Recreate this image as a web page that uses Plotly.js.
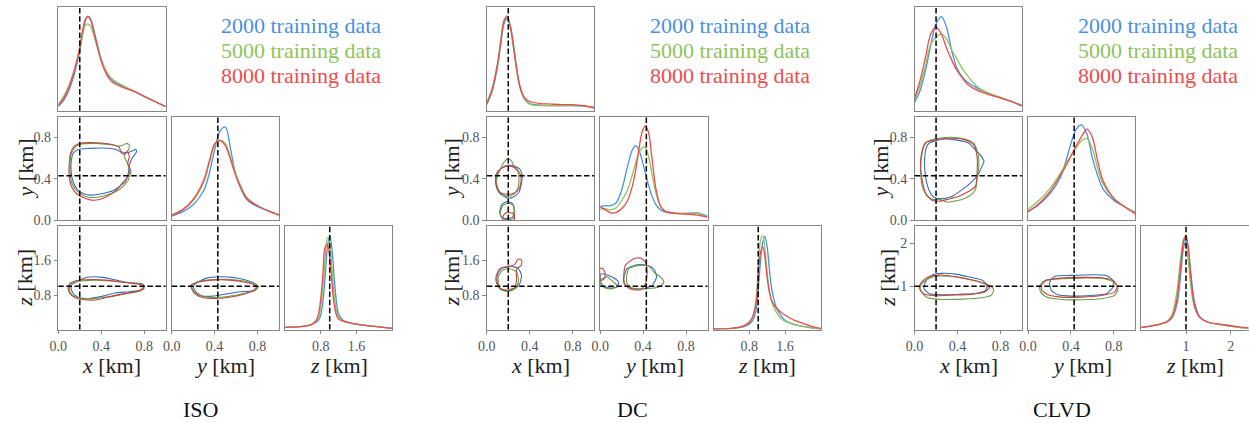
<!DOCTYPE html>
<html>
<head>
<meta charset="utf-8">
<script src="https://cdn.plot.ly/plotly-3.0.1.min.js"></script>
<style>
  html, body { margin: 0; padding: 0; background: #ffffff; }
  #chart { width: 1249px; height: 423px; }
</style>
</head>
<body>
<div id="chart"></div>
<script>
// ---------------- data ----------------
const sourceTypes = ["ISO", "DC", "CLVD"];
const trainingSizes = [2000, 5000, 8000];
const truthLocation = [0.2, 0.43, 1.0];          // true source x, y, z [km]
const axisNames = ["x", "y", "z"];
const xyTickVals = [0, 0.4, 0.8];
const xyTickText = ["0.0", "0.4", "0.8"];
const zTickVals = [[0.8, 1.6], [0.8, 1.6], [1, 2]];
const zTickText = [["0.8", "1.6"], ["0.8", "1.6"], ["1", "2"]];

// ---- ISO: marginal densities (scaled) ----
const isoGridX = [0, 0.05, 0.1, 0.15, 0.2, 0.225, 0.25, 0.275, 0.3, 0.35, 0.4, 0.45, 0.5, 0.6, 0.7, 0.8, 0.9, 1.0];
const isoX_2000 = [0.04, 0.10, 0.20, 0.36, 0.58, 0.74, 0.86, 0.915, 0.89, 0.70, 0.50, 0.37, 0.30, 0.235, 0.19, 0.14, 0.09, 0.04];
const isoX_5000 = [0.06, 0.14, 0.25, 0.40, 0.60, 0.73, 0.82, 0.84, 0.82, 0.66, 0.49, 0.38, 0.31, 0.245, 0.195, 0.14, 0.09, 0.04];
const isoX_8000 = [0.05, 0.12, 0.23, 0.39, 0.61, 0.77, 0.88, 0.91, 0.88, 0.68, 0.48, 0.35, 0.28, 0.225, 0.19, 0.14, 0.09, 0.04];

const isoGridY = [0, 0.1, 0.2, 0.3, 0.35, 0.4, 0.45, 0.5, 0.55, 0.6, 0.7, 0.8, 0.9, 1.0];
const isoY_2000 = [0.04, 0.08, 0.15, 0.29, 0.45, 0.68, 0.86, 0.90, 0.68, 0.43, 0.20, 0.13, 0.09, 0.05];
const isoY_5000 = [0.05, 0.10, 0.19, 0.37, 0.55, 0.72, 0.77, 0.74, 0.60, 0.44, 0.22, 0.14, 0.09, 0.05];
const isoY_8000 = [0.05, 0.10, 0.20, 0.39, 0.57, 0.74, 0.77, 0.72, 0.58, 0.42, 0.21, 0.14, 0.09, 0.05];

const isoGridZ = [0, 0.4, 0.6, 0.7, 0.75, 0.8, 0.85, 0.9, 0.95, 1.0, 1.05, 1.1, 1.15, 1.2, 1.3, 1.5, 1.8, 2.1, 2.4];
const isoZ_2000 = [0.02, 0.03, 0.05, 0.07, 0.09, 0.14, 0.28, 0.52, 0.80, 0.91, 0.78, 0.50, 0.27, 0.15, 0.09, 0.06, 0.04, 0.025, 0.01];
const isoZ_5000 = [0.02, 0.03, 0.05, 0.08, 0.12, 0.22, 0.42, 0.70, 0.89, 0.84, 0.60, 0.33, 0.18, 0.12, 0.08, 0.06, 0.04, 0.025, 0.01];
const isoZ_8000 = [0.02, 0.03, 0.05, 0.09, 0.15, 0.30, 0.55, 0.80, 0.82, 0.70, 0.45, 0.24, 0.14, 0.10, 0.08, 0.06, 0.04, 0.025, 0.01];

// ---- ISO: 2-D credible contours, rings of [a, b] in km ----
const isoXY_2000 = [[[0.185,0.684],[0.292,0.694],[0.415,0.697],[0.538,0.684],[0.585,0.661],[0.646,0.652],[0.692,0.671],[0.723,0.684],[0.729,0.661],[0.686,0.597],[0.662,0.532],[0.655,0.468],[0.637,0.403],[0.606,0.371],[0.569,0.323],[0.508,0.284],[0.415,0.258],[0.308,0.242],[0.231,0.258],[0.175,0.297],[0.138,0.371],[0.12,0.468],[0.12,0.565],[0.138,0.645]]];
const isoXY_5000 = [[[0.2,0.732],[0.354,0.742],[0.508,0.726],[0.569,0.716],[0.606,0.726],[0.637,0.742],[0.662,0.726],[0.655,0.684],[0.631,0.652],[0.615,0.613],[0.637,0.565],[0.662,0.516],[0.677,0.468],[0.662,0.419],[0.649,0.381],[0.615,0.339],[0.569,0.297],[0.492,0.258],[0.415,0.232],[0.323,0.219],[0.246,0.232],[0.185,0.274],[0.138,0.329],[0.114,0.419],[0.108,0.532],[0.12,0.639],[0.154,0.703]]];
const isoXY_8000 = [[[0.2,0.742],[0.354,0.748],[0.508,0.729],[0.569,0.703],[0.585,0.652],[0.615,0.639],[0.646,0.661],[0.662,0.613],[0.646,0.548],[0.668,0.484],[0.655,0.435],[0.637,0.403],[0.625,0.371],[0.585,0.339],[0.523,0.274],[0.446,0.226],[0.385,0.2],[0.308,0.194],[0.231,0.219],[0.169,0.258],[0.123,0.323],[0.102,0.419],[0.102,0.548],[0.114,0.645],[0.145,0.71]]];

const isoXZ_2000 = [[[0.123,1.03],[0.231,1.185],[0.323,1.223],[0.415,1.208],[0.538,1.146],[0.662,1.084],[0.769,1.068],[0.8,1.014],[0.769,0.914],[0.662,0.875],[0.538,0.852],[0.415,0.774],[0.292,0.72],[0.215,0.72],[0.154,0.797],[0.123,0.914]]];
const isoXZ_5000 = [[[0.108,1.053],[0.231,1.13],[0.354,1.146],[0.477,1.13],[0.6,1.099],[0.723,1.068],[0.791,1.03],[0.8,0.952],[0.754,0.89],[0.646,0.836],[0.523,0.774],[0.415,0.743],[0.308,0.712],[0.215,0.728],[0.145,0.774],[0.108,0.875]]];
const isoXZ_8000 = [[[0.108,1.068],[0.2,1.146],[0.323,1.161],[0.446,1.146],[0.569,1.107],[0.692,1.068],[0.785,1.03],[0.794,0.968],[0.754,0.898],[0.662,0.852],[0.538,0.797],[0.415,0.72],[0.323,0.681],[0.231,0.697],[0.154,0.743],[0.108,0.836],[0.092,0.952]]];

const isoYZ_2000 = [[[0.201,0.991],[0.226,1.068],[0.319,1.185],[0.443,1.223],[0.567,1.208],[0.69,1.146],[0.783,1.053],[0.799,0.991],[0.752,0.898],[0.628,0.875],[0.505,0.821],[0.381,0.774],[0.288,0.774],[0.226,0.875]]];
const isoYZ_5000 = [[[0.189,1.03],[0.272,1.123],[0.396,1.161],[0.551,1.161],[0.675,1.123],[0.768,1.053],[0.808,0.991],[0.783,0.914],[0.706,0.852],[0.582,0.79],[0.427,0.743],[0.303,0.759],[0.226,0.836],[0.195,0.929]]];
const isoYZ_8000 = [[[0.18,1.03],[0.257,1.107],[0.381,1.146],[0.536,1.146],[0.659,1.107],[0.752,1.053],[0.789,0.991],[0.768,0.914],[0.69,0.836],[0.567,0.759],[0.412,0.72],[0.288,0.743],[0.22,0.821],[0.189,0.929]]];

// ---- DC: marginal densities (scaled) ----
const dcGridX = [0, 0.05, 0.1, 0.13, 0.16, 0.19, 0.22, 0.25, 0.28, 0.31, 0.35, 0.4, 0.5, 0.6, 0.7, 0.8, 0.9, 1.0];
const dcX_2000 = [0.06, 0.19, 0.43, 0.64, 0.84, 0.89, 0.82, 0.63, 0.40, 0.23, 0.12, 0.07, 0.055, 0.05, 0.05, 0.05, 0.045, 0.035];
const dcX_5000 = [0.08, 0.22, 0.46, 0.68, 0.87, 0.92, 0.80, 0.60, 0.38, 0.22, 0.11, 0.065, 0.05, 0.05, 0.05, 0.05, 0.05, 0.04];
const dcX_8000 = [0.07, 0.20, 0.45, 0.67, 0.87, 0.91, 0.81, 0.61, 0.39, 0.23, 0.13, 0.09, 0.07, 0.065, 0.06, 0.06, 0.05, 0.025];

const dcGridY = [0, 0.05, 0.1, 0.15, 0.2, 0.25, 0.3, 0.33, 0.36, 0.39, 0.42, 0.45, 0.48, 0.52, 0.56, 0.6, 0.7, 0.8, 0.9, 1.0];
const dcY_2000 = [0.13, 0.14, 0.14, 0.17, 0.29, 0.50, 0.68, 0.72, 0.68, 0.58, 0.46, 0.34, 0.24, 0.15, 0.10, 0.08, 0.065, 0.065, 0.07, 0.04];
const dcY_5000 = [0.11, 0.11, 0.10, 0.12, 0.19, 0.28, 0.44, 0.55, 0.65, 0.70, 0.70, 0.62, 0.46, 0.26, 0.14, 0.09, 0.07, 0.065, 0.065, 0.03];
const dcY_8000 = [0.13, 0.10, 0.07, 0.075, 0.11, 0.18, 0.33, 0.48, 0.68, 0.85, 0.91, 0.85, 0.62, 0.30, 0.14, 0.09, 0.065, 0.06, 0.05, 0.03];

const dcGridZ = [0, 0.4, 0.7, 0.85, 0.95, 1.0, 1.05, 1.1, 1.15, 1.2, 1.25, 1.3, 1.4, 1.5, 1.6, 1.8, 2.0, 2.2, 2.4];
const dcZ_2000 = [0.005, 0.01, 0.03, 0.07, 0.18, 0.38, 0.65, 0.84, 0.90, 0.80, 0.58, 0.40, 0.22, 0.14, 0.09, 0.05, 0.03, 0.015, 0.005];
const dcZ_5000 = [0.005, 0.01, 0.035, 0.09, 0.28, 0.60, 0.86, 0.91, 0.78, 0.55, 0.38, 0.27, 0.17, 0.11, 0.08, 0.05, 0.03, 0.015, 0.005];
const dcZ_8000 = [0.005, 0.01, 0.04, 0.10, 0.25, 0.52, 0.74, 0.80, 0.70, 0.50, 0.36, 0.28, 0.21, 0.17, 0.14, 0.09, 0.06, 0.03, 0.01];

// ---- DC: 2-D credible contours ----
const dcXY_2000 = [
  [[0.09,0.40],[0.11,0.47],[0.16,0.52],[0.21,0.53],[0.26,0.52],[0.31,0.49],[0.33,0.43],[0.32,0.34],[0.30,0.27],[0.24,0.22],[0.18,0.22],[0.12,0.26],[0.09,0.32]],
  [[0.12,0.08],[0.14,0.15],[0.19,0.18],[0.24,0.16],[0.255,0.09],[0.24,0.03],[0.19,0.015],[0.14,0.03]]
];
const dcXY_5000 = [
  [[0.09,0.39],[0.12,0.48],[0.16,0.56],[0.2,0.595],[0.23,0.57],[0.26,0.51],[0.29,0.47],[0.30,0.40],[0.29,0.31],[0.25,0.25],[0.19,0.23],[0.13,0.26],[0.10,0.32]],
  [[0.125,0.07],[0.15,0.14],[0.2,0.165],[0.25,0.14],[0.26,0.07],[0.245,0.015],[0.19,0.005],[0.14,0.02]]
];
const dcXY_8000 = [
  [[0.08,0.41],[0.10,0.47],[0.15,0.51],[0.21,0.525],[0.27,0.5],[0.31,0.45],[0.32,0.38],[0.3,0.3],[0.25,0.26],[0.18,0.25],[0.12,0.27],[0.09,0.33]],
  [[0.15,0.0],[0.15,0.03],[0.17,0.065],[0.21,0.075],[0.25,0.06],[0.26,0.02],[0.255,0.0]]
];

const dcXZ_2000 = [[[0.098,1.262],[0.138,1.417],[0.215,1.471],[0.292,1.417],[0.323,1.262],[0.308,1.068],[0.262,0.944],[0.191,0.898],[0.123,0.944],[0.098,1.084]]];
const dcXZ_5000 = [[[0.108,1.223],[0.148,1.378],[0.215,1.409],[0.277,1.339],[0.295,1.146],[0.277,0.975],[0.209,0.883],[0.138,0.914],[0.111,1.053]]];
const dcXZ_8000 = [[[0.086,1.223],[0.123,1.417],[0.2,1.455],[0.262,1.517],[0.292,1.634],[0.323,1.61],[0.323,1.494],[0.277,1.394],[0.277,1.146],[0.262,0.975],[0.191,0.914],[0.123,0.952],[0.092,1.068]]];

const dcYZ_2000 = [
  [[0.219,1.177],[0.25,1.409],[0.344,1.502],[0.438,1.486],[0.5,1.409],[0.525,1.215],[0.484,1.022],[0.406,0.945],[0.281,0.96],[0.225,1.061]],
  [[0.006,1.29],[0.078,1.254],[0.14,1.177],[0.172,1.099],[0.156,0.983],[0.094,0.96],[0.031,1.006],[0.006,1.099]]
];
const dcYZ_5000 = [
  [[0.244,1.177],[0.266,1.409],[0.359,1.486],[0.453,1.471],[0.5,1.332],[0.563,1.215],[0.594,1.099],[0.547,0.983],[0.438,0.945],[0.313,0.945],[0.256,1.037]],
  [[0.0,1.14],[0.063,1.22],[0.125,1.099],[0.163,1.006],[0.11,0.945],[0.047,0.96],[0.006,1.037]]
];
const dcYZ_8000 = [
  [[0.219,1.177],[0.234,1.486],[0.313,1.641],[0.375,1.657],[0.422,1.564],[0.438,1.332],[0.422,1.061],[0.375,0.921],[0.297,0.929],[0.234,1.022]],
  [[0.0,1.42],[0.025,1.41],[0.047,1.293],[0.038,1.177],[0.006,1.138],[0.0,1.14]]
];

// ---- CLVD: marginal densities (scaled) ----
const clvdGridX = [0, 0.05, 0.1, 0.15, 0.2, 0.25, 0.3, 0.35, 0.4, 0.45, 0.5, 0.6, 0.7, 0.8, 0.9, 1.0];
const clvdX_2000 = [0.08, 0.19, 0.38, 0.63, 0.84, 0.91, 0.80, 0.56, 0.40, 0.32, 0.27, 0.21, 0.165, 0.125, 0.09, 0.045];
const clvdX_5000 = [0.10, 0.24, 0.43, 0.64, 0.71, 0.74, 0.69, 0.58, 0.49, 0.40, 0.33, 0.22, 0.165, 0.13, 0.09, 0.05];
const clvdX_8000 = [0.12, 0.29, 0.51, 0.74, 0.81, 0.74, 0.60, 0.48, 0.38, 0.31, 0.25, 0.19, 0.155, 0.125, 0.09, 0.05];

const clvdGridY = [0, 0.1, 0.2, 0.3, 0.35, 0.4, 0.45, 0.5, 0.55, 0.6, 0.65, 0.7, 0.8, 0.9, 1.0];
const clvdY_2000 = [0.08, 0.15, 0.25, 0.41, 0.56, 0.74, 0.88, 0.92, 0.83, 0.60, 0.43, 0.30, 0.19, 0.13, 0.075];
const clvdY_5000 = [0.105, 0.19, 0.30, 0.45, 0.54, 0.62, 0.70, 0.77, 0.79, 0.69, 0.50, 0.35, 0.21, 0.13, 0.07];
const clvdY_8000 = [0.085, 0.16, 0.27, 0.43, 0.52, 0.62, 0.72, 0.81, 0.88, 0.80, 0.57, 0.38, 0.21, 0.13, 0.06];

const clvdGridZ = [0, 0.4, 0.6, 0.7, 0.8, 0.85, 0.9, 0.95, 1.0, 1.05, 1.1, 1.15, 1.2, 1.3, 1.5, 1.8, 2.1, 2.4];
const clvdZ_2000 = [0.02, 0.05, 0.08, 0.12, 0.25, 0.40, 0.62, 0.80, 0.86, 0.78, 0.58, 0.38, 0.25, 0.13, 0.07, 0.045, 0.025, 0.01];
const clvdZ_5000 = [0.02, 0.05, 0.09, 0.16, 0.38, 0.57, 0.76, 0.88, 0.83, 0.66, 0.45, 0.29, 0.20, 0.12, 0.07, 0.045, 0.025, 0.01];
const clvdZ_8000 = [0.02, 0.05, 0.08, 0.13, 0.30, 0.48, 0.70, 0.86, 0.91, 0.80, 0.55, 0.34, 0.22, 0.12, 0.07, 0.05, 0.03, 0.015];

// ---- CLVD: 2-D credible contours ----
const clvdXY_2000 = [[[0.133,0.744],[0.257,0.782],[0.381,0.776],[0.505,0.744],[0.567,0.679],[0.613,0.631],[0.647,0.567],[0.628,0.519],[0.591,0.439],[0.52,0.359],[0.443,0.295],[0.35,0.231],[0.257,0.208],[0.18,0.221],[0.133,0.295],[0.102,0.423],[0.093,0.583],[0.108,0.696]]];
const clvdXY_5000 = [[[0.118,0.76],[0.226,0.792],[0.35,0.801],[0.474,0.782],[0.551,0.744],[0.591,0.647],[0.598,0.519],[0.582,0.391],[0.567,0.295],[0.505,0.231],[0.443,0.199],[0.365,0.183],[0.303,0.173],[0.241,0.199],[0.18,0.199],[0.118,0.231],[0.071,0.327],[0.056,0.487],[0.065,0.615],[0.087,0.712]]];
const clvdXY_8000 = [[[0.102,0.75],[0.226,0.782],[0.35,0.792],[0.474,0.776],[0.551,0.728],[0.582,0.615],[0.582,0.455],[0.567,0.327],[0.505,0.279],[0.412,0.231],[0.319,0.205],[0.226,0.183],[0.164,0.192],[0.102,0.263],[0.065,0.423],[0.056,0.551],[0.071,0.679]]];

const clvdXZ_2000 = [[[0.102,1.107],[0.164,1.262],[0.257,1.301],[0.381,1.285],[0.505,1.223],[0.628,1.146],[0.675,1.03],[0.659,0.898],[0.567,0.836],[0.443,0.821],[0.257,0.805],[0.133,0.836],[0.087,0.952]]];
const clvdXZ_5000 = [[[0.056,1.03],[0.133,1.185],[0.241,1.239],[0.412,1.208],[0.567,1.13],[0.69,1.03],[0.737,0.929],[0.715,0.797],[0.628,0.735],[0.443,0.705],[0.257,0.697],[0.118,0.743],[0.056,0.898]]];
const clvdXZ_8000 = [[[0.056,1.068],[0.118,1.208],[0.226,1.262],[0.381,1.223],[0.536,1.146],[0.659,1.053],[0.697,0.975],[0.659,0.875],[0.536,0.821],[0.35,0.797],[0.195,0.782],[0.087,0.821],[0.046,0.952]]];

const clvdYZ_2000 = [[[0.202,1.099],[0.248,1.231],[0.404,1.254],[0.59,1.27],[0.73,1.254],[0.792,1.138],[0.792,0.983],[0.73,0.828],[0.59,0.79],[0.404,0.774],[0.28,0.805],[0.217,0.906]]];
const clvdYZ_5000 = [[[0.109,1.006],[0.155,1.138],[0.311,1.177],[0.497,1.192],[0.683,1.192],[0.801,1.099],[0.839,0.945],[0.807,0.79],[0.683,0.712],[0.497,0.689],[0.311,0.697],[0.171,0.751],[0.118,0.867]]];
const clvdYZ_8000 = [[[0.124,1.022],[0.171,1.138],[0.311,1.192],[0.497,1.208],[0.683,1.2],[0.792,1.138],[0.832,1.006],[0.807,0.867],[0.683,0.79],[0.497,0.751],[0.311,0.751],[0.186,0.805],[0.13,0.906]]];

// ---------------- assembly ----------------
const lineColours = ["#4a90e2", "#8cc45a", "#ef4b4b"];
const contourColours = ["#3a6cb3", "#6a9c46", "#c2463f"];

const marginals = [
  [[isoGridX, [isoX_2000, isoX_5000, isoX_8000]], [isoGridY, [isoY_2000, isoY_5000, isoY_8000]], [isoGridZ, [isoZ_2000, isoZ_5000, isoZ_8000]]],
  [[dcGridX, [dcX_2000, dcX_5000, dcX_8000]], [dcGridY, [dcY_2000, dcY_5000, dcY_8000]], [dcGridZ, [dcZ_2000, dcZ_5000, dcZ_8000]]],
  [[clvdGridX, [clvdX_2000, clvdX_5000, clvdX_8000]], [clvdGridY, [clvdY_2000, clvdY_5000, clvdY_8000]], [clvdGridZ, [clvdZ_2000, clvdZ_5000, clvdZ_8000]]]
];
// keyed by "row,col" of the lower triangle
const contours = [
  {"1,0": [isoXY_2000, isoXY_5000, isoXY_8000], "2,0": [isoXZ_2000, isoXZ_5000, isoXZ_8000], "2,1": [isoYZ_2000, isoYZ_5000, isoYZ_8000]},
  {"1,0": [dcXY_2000, dcXY_5000, dcXY_8000], "2,0": [dcXZ_2000, dcXZ_5000, dcXZ_8000], "2,1": [dcYZ_2000, dcYZ_5000, dcYZ_8000]},
  {"1,0": [clvdXY_2000, clvdXY_5000, clvdXY_8000], "2,0": [clvdXZ_2000, clvdXZ_5000, clvdXZ_8000], "2,1": [clvdYZ_2000, clvdYZ_5000, clvdYZ_8000]}
];

const W = 1249, H = 423;
const blockLeft = [58.3, 486.8, 914.6];
const colOff = [0, 113.4, 226.7];
const panelW = 107.3;
const rowTop = [7.3, 116.7, 226.0];
const panelH = 103.5;
const varRange = [[0, 1.0], [0, 1.0], [0, 2.4]];

const FONT = '"Liberation Serif", "Times New Roman", serif';
const frameColour = "#858585";
const tickColour = "#555555";

const panels = [[0, 0], [1, 0], [1, 1], [2, 0], [2, 1], [2, 2]];

// closed rings -> one x/y pair of arrays, pieces separated by gaps
function ringsToXY(rings) {
  const xs = [], ys = [];
  rings.forEach((ring, i) => {
    if (i > 0) { xs.push(null); ys.push(null); }
    ring.forEach(p => { xs.push(p[0]); ys.push(p[1]); });
    const last = ring[ring.length - 1];
    const openAtEdge = ring[0][1] === 0 || last[1] === 0;
    if (!openAtEdge) { xs.push(ring[0][0]); ys.push(ring[0][1]); }
  });
  return [xs, ys];
}

const traces = [];
const layout = {
  width: W, height: H,
  margin: {l: 0, r: 0, t: 0, b: 0},
  paper_bgcolor: "#ffffff", plot_bgcolor: "#ffffff",
  showlegend: false,
  hovermode: false,
  font: {family: FONT, color: "#222222"},
  shapes: [], annotations: []
};

let k = 0;
sourceTypes.forEach((src, b) => {
  panels.forEach(([r, c]) => {
    k += 1;
    const sx = k === 1 ? "" : String(k);
    const xa = "x" + sx, ya = "y" + sx;
    const left = blockLeft[b] + colOff[c];
    const top = rowTop[r];
    const diag = r === c;

    const tickSpec = (v) => v === 2
      ? {tickvals: zTickVals[b], ticktext: zTickText[b]}
      : {tickvals: xyTickVals, ticktext: xyTickText};

    const showX = r === 2;
    const showY = c === 0 && r > 0;
    const base = {
      showline: true, mirror: true, linecolor: frameColour, linewidth: 1,
      showgrid: false, zeroline: false,
      tickfont: {family: FONT, size: 14, color: tickColour},
      tickcolor: frameColour, ticklen: 3.5, tickwidth: 1
    };
    layout["xaxis" + sx] = Object.assign({}, base, tickSpec(c), {
      anchor: ya,
      domain: [left / W, Math.min(1, (left + panelW) / W)],
      range: varRange[c],
      ticks: showX ? "outside" : "",
      showticklabels: showX
    });
    layout["yaxis" + sx] = Object.assign({}, base, diag ? {} : tickSpec(r), {
      anchor: xa,
      domain: [1 - (top + panelH) / H, 1 - top / H],
      range: diag ? [0, 1] : varRange[r],
      ticks: showY ? "outside" : "",
      showticklabels: showY
    });

    if (diag) {
      const [grid, series] = marginals[b][c];
      series.forEach((vals, i) => {
        traces.push({
          type: "scatter", mode: "lines", x: grid, y: vals,
          xaxis: xa, yaxis: ya,
          line: {color: lineColours[i], width: 1.3, shape: "spline", smoothing: 0.9},
          name: trainingSizes[i] + " training data"
        });
      });
    } else {
      contours[b][r + "," + c].forEach((rings, i) => {
        const [xs, ys] = ringsToXY(rings);
        traces.push({
          type: "scatter", mode: "lines", x: xs, y: ys,
          xaxis: xa, yaxis: ya, connectgaps: false,
          line: {color: contourColours[i], width: 1.1, shape: "spline", smoothing: 0.6},
          name: trainingSizes[i] + " training data"
        });
      });
    }

    // true source location
    const dash = {color: "#000000", width: 1.5, dash: "5.5px,2.6px"};
    layout.shapes.push({type: "line", xref: xa, yref: ya + " domain",
      x0: truthLocation[c], x1: truthLocation[c], y0: 0, y1: 1, line: dash});
    if (!diag) {
      layout.shapes.push({type: "line", xref: xa + " domain", yref: ya,
        x0: 0, x1: 1, y0: truthLocation[r], y1: truthLocation[r], line: dash});
    }

    // axis labels under the bottom row
    if (r === 2) {
      layout.annotations.push({
        xref: "paper", yref: "paper",
        x: (left + panelW / 2) / W, y: 1 - 365 / H,
        xanchor: "center", yanchor: "middle", showarrow: false,
        text: "<i>" + axisNames[c] + "</i> [km]",
        font: {family: FONT, size: 22, color: "#222222"}
      });
    }
  });

  // y labels of the first column
  const yLabelX = [[25, 25], [451.7, 451.7], [880, 888]][b];
  [1, 2].forEach((r, j) => {
    layout.annotations.push({
      xref: "paper", yref: "paper",
      x: yLabelX[j] / W, y: 1 - (rowTop[r] + panelH / 2) / H,
      xanchor: "center", yanchor: "middle", showarrow: false, textangle: -90,
      text: "<i>" + axisNames[r] + "</i> [km]",
      font: {family: FONT, size: 22, color: "#222222"}
    });
  });

  // training-set key
  const keyLeft = [219, 647.7, 1075.7][b];
  trainingSizes.forEach((n, i) => {
    layout.annotations.push({
      xref: "paper", yref: "paper",
      x: keyLeft / W, y: 1 - (25.6 + 25 * i) / H,
      xanchor: "left", yanchor: "middle", showarrow: false,
      text: n + " training data",
      font: {family: FONT, size: 22, color: lineColours[i]}
    });
  });

  // source-type caption
  layout.annotations.push({
    xref: "paper", yref: "paper",
    x: [200, 632, 1062][b] / W, y: 1 - 409 / H,
    xanchor: "center", yanchor: "middle", showarrow: false,
    text: src,
    font: {family: FONT, size: 22, color: "#111111"}
  });
});

Plotly.newPlot("chart", traces, layout, {staticPlot: true, displayModeBar: false});
</script>
</body>
</html>
